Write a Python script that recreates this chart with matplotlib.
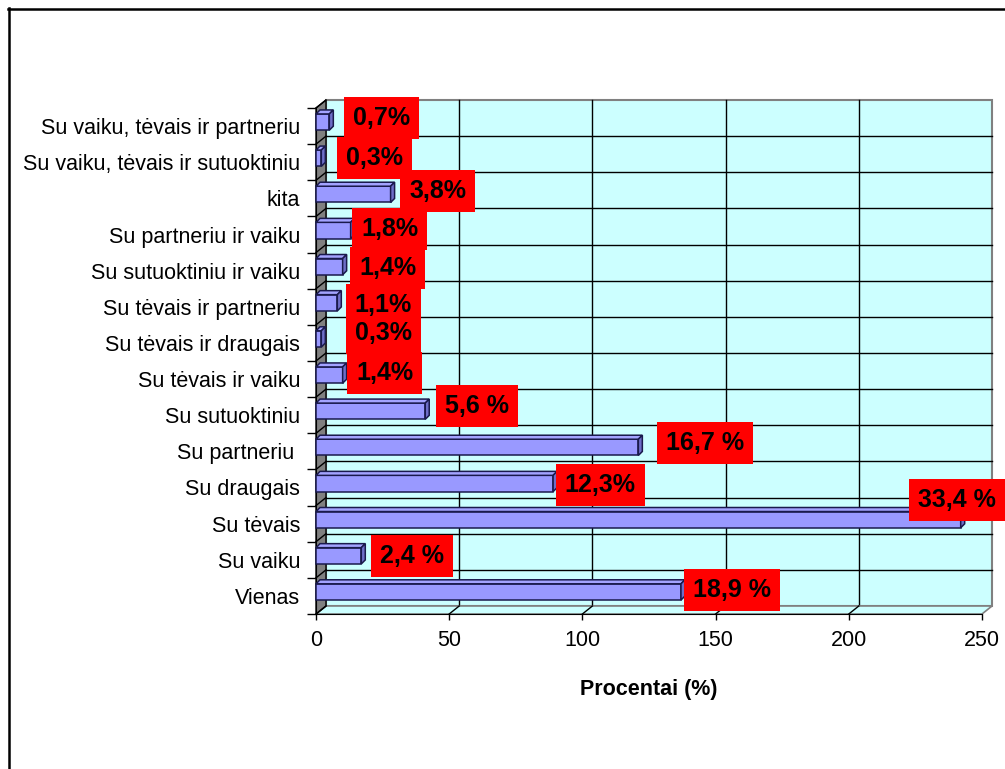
import matplotlib
matplotlib.use("Agg")
import matplotlib.pyplot as plt
from matplotlib import transforms
from matplotlib.lines import Line2D
from matplotlib.patches import Polygon, Rectangle

plt.rcParams.update({
    "font.family": ["Liberation Sans", "DejaVu Sans"],
    "font.size": 15,
})

# --- data -------------------------------------------------------------
categories = [
    "Vienas", "Su vaiku", "Su tėvais", "Su draugais", "Su partneriu ",
    "Su sutuoktiniu", "Su tėvais ir vaiku", "Su tėvais ir draugais",
    "Su tėvais ir partneriu", "Su sutuoktiniu ir vaiku",
    "Su partneriu ir vaiku", "kita", "Su vaiku, tėvais ir sutuoktiniu",
    "Su vaiku, tėvais ir partneriu",
]
counts = [137, 17, 242, 89, 121, 41, 10, 2, 8, 10, 13, 28, 2, 5]
pct_labels = [
    "18,9 %", "2,4 %", "33,4 %", "12,3%", "16,7 %", "5,6 %", "1,4%",
    "0,3%", "1,1%", "1,4%", "1,8%", "3,8%", "0,3%", "0,7%",
]
x_ticks = [0, 50, 100, 150, 200, 250]

# label box offsets from the bar end (pixels)
label_offsets = [
    (51, 6), (51, 4), (-4, 24), (47, 3), (67, 8), (52, 9), (42, 6),
    (62, 10), (46, 2), (45, 3), (39, 6), (47, 7), (53, 4), (52, 8),
]

W, H = 1005, 769
fig = plt.figure(figsize=(W / 100, H / 100), dpi=100)
fig.patch.set_facecolor("white")
ax = fig.add_axes([316 / W, 1 - 614 / H, 666 / W, 506 / H])
ax.set_xlim(0, 250)
ax.set_ylim(-0.5, len(categories) - 0.5)
ax.patch.set_visible(False)

DEPTH = (10, 8)      # wall depth in pixels
BAR_POS = (0, 4)     # bar front face sits half way back
BAR_DEPTH = (4, 4)   # bar thickness
ylo, yhi = -0.5, len(categories) - 0.5


def off(dx, dy):
    return transforms.offset_copy(ax.transData, fig=fig, x=dx, y=dy, units="dots")


def shifted(x, y, dx, dy):
    px = ax.transData.transform((x, y))
    return tuple(ax.transData.inverted().transform((px[0] + dx, px[1] + dy)))


back = off(*DEPTH)

# back wall + gridlines
ax.add_patch(Rectangle((0, ylo), 250, yhi - ylo, transform=back, fc="#CCFFFF",
                       ec="#808080", lw=1.5, zorder=0, clip_on=False))
for x in x_ticks[1:-1]:
    ax.plot([x, x], [ylo, yhi], color="black", lw=1, transform=back,
            zorder=1, clip_on=False)
for k in range(len(categories) - 1):
    ax.plot([0, 250], [k + 0.5, k + 0.5], color="black", lw=1, transform=back,
            zorder=1, clip_on=False)

# floor
floor = [(0, ylo), (250, ylo), shifted(250, ylo, *DEPTH), shifted(0, ylo, *DEPTH)]
ax.add_patch(Polygon(floor, closed=True, fc="#CCFFFF", ec="#808080", lw=1.2,
                     zorder=1, clip_on=False))
for x in x_ticks[1:-1]:
    bx, by = shifted(x, ylo, *DEPTH)
    ax.plot([x, bx], [ylo, by], color="black", lw=1, zorder=1.5, clip_on=False)

# left side wall
wall = [(0, ylo), (0, yhi), shifted(0, yhi, *DEPTH), shifted(0, ylo, *DEPTH)]
ax.add_patch(Polygon(wall, closed=True, fc="#808080", ec="black", lw=1,
                     zorder=2, clip_on=False))
for k in range(-1, len(categories)):
    y = k + 0.5
    bx, by = shifted(0, y, *DEPTH)
    ax.plot([0, bx], [y, by], color="black", lw=1, zorder=2.5, clip_on=False)

# 3d bars
h = 0.45
edge = "#1A1A4D"
for i, v in enumerate(counts):
    y0, y1 = i - h / 2, i + h / 2
    ax.add_patch(Rectangle((0, y0), v, h, transform=off(*BAR_POS), fc="#9999FF",
                           ec=edge, lw=1.1, zorder=4, clip_on=False))
    bx, by = BAR_POS[0] + BAR_DEPTH[0], BAR_POS[1] + BAR_DEPTH[1]
    top = [shifted(0, y1, *BAR_POS), shifted(v, y1, *BAR_POS),
           shifted(v, y1, bx, by), shifted(0, y1, bx, by)]
    side = [shifted(v, y0, *BAR_POS), shifted(v, y1, *BAR_POS),
            shifted(v, y1, bx, by), shifted(v, y0, bx, by)]
    ax.add_patch(Polygon(top, closed=True, fc="#A3A3FF", ec=edge, lw=1.1,
                         zorder=4, clip_on=False))
    ax.add_patch(Polygon(side, closed=True, fc="#6E6EC8", ec=edge, lw=1.1,
                         zorder=4, clip_on=False))

# value labels: text on top, red boxes underneath all of them
value_texts = []
for i, (v, txt, (dx, dy)) in enumerate(zip(counts, pct_labels, label_offsets)):
    t = ax.annotate(txt, xy=(v, i), xytext=(dx, dy), textcoords="offset pixels",
                    ha="center", va="center", fontsize=18, fontweight="bold",
                    color="black", zorder=7, annotation_clip=False)
    value_texts.append(t)

# axes, ticks and labels
for s in ("top", "right"):
    ax.spines[s].set_visible(False)
ax.spines["left"].set_color("black")
ax.spines["bottom"].set_color("black")
ax.spines["left"].set_zorder(3)
ax.spines["bottom"].set_zorder(3)

ax.set_xticks(x_ticks)
ax.set_xticklabels([str(t) for t in x_ticks])
ax.tick_params(axis="x", length=4.5, width=1, pad=7, labelsize=15.5)

ax.set_yticks([k + 0.5 for k in range(-1, len(categories))])
ax.set_yticklabels([])
ax.set_yticks(range(len(categories)), minor=True)
ax.set_yticklabels(categories, minor=True)
ax.tick_params(axis="y", which="major", length=6.5, width=1)
ax.tick_params(axis="y", which="minor", length=0, pad=11.5, labelsize=15.5)

ax.set_xlabel("Procentai (%)", fontsize=15.5, fontweight="bold", labelpad=20)

# chart border
fig.add_artist(Line2D([8.5 / W, 8.5 / W], [0, 1 - 8 / H], color="black", lw=1.8))
fig.add_artist(Line2D([8 / W, 1], [1 - 8.5 / H, 1 - 8.5 / H], color="black", lw=1.8))

fig.canvas.draw()
renderer = fig.canvas.get_renderer()
padx, pady = 9, 9
for t in value_texts:
    bb = t.get_window_extent(renderer)
    ax.add_patch(Rectangle((bb.x0 - padx, bb.y0 - pady), bb.width + 2 * padx,
                           bb.height + 2 * pady, transform=transforms.IdentityTransform(),
                           fc="#FF0000", ec="none", zorder=6, clip_on=False))

fig.savefig("out.png", dpi=100)
